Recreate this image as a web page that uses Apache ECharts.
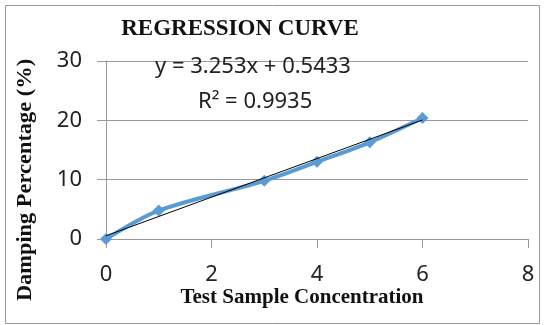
<!DOCTYPE html>
<html><head><meta charset="utf-8">
<script src="https://cdn.jsdelivr.net/npm/echarts@6/dist/echarts.min.js"></script>
<style>html,body{margin:0;padding:0;background:#fff}#c{width:545px;height:325px}</style>
</head><body><div id="c"></div>
<script>
var xValues = [0, 1, 3, 4, 5, 6];
var yValues = [0, 4.8, 9.8, 13.0, 16.3, 20.4];
var slope = 3.253, intercept = 0.5433, rSquared = 0.9935;
var xTicks = [0, 2, 4, 6, 8];
var yTicks = [0, 10, 20, 30];
var titleText = 'REGRESSION CURVE';
var xTitle = 'Test Sample Concentration';
var yTitle = 'Damping Percentage (%)';

var pts = xValues.map(function(x, i){ return [x, yValues[i]]; });
var trendX = [xValues[0], xValues[xValues.length-1]];
var trend = trendX.map(function(x){ return [x, slope*x + intercept]; });
var eqText = 'y = ' + slope + 'x + ' + intercept;
var r2Text = 'R² = ' + rSquared;

var chart = echarts.init(document.getElementById('c'));
var tickFont = {fontFamily:'Noto Sans', fontSize:22, color:'#222'};
chart.setOption({
  animation:false,
  grid:{left:106, right:17, top:61, bottom:86},
  xAxis:{type:'value', min:xTicks[0], max:xTicks[xTicks.length-1], interval:2,
    axisLine:{show:true, lineStyle:{color:'#999'}},
    axisTick:{show:true, length:9, lineStyle:{color:'#999'}},
    splitLine:{show:false},
    axisLabel:Object.assign({margin:25}, tickFont)},
  yAxis:{type:'value', min:yTicks[0], max:yTicks[yTicks.length-1], interval:10,
    axisLine:{show:true, lineStyle:{color:'#999'}},
    axisTick:{show:true, length:9, lineStyle:{color:'#999'}},
    splitLine:{show:true, lineStyle:{color:'#999'}},
    axisLabel:Object.assign({margin:24}, tickFont)},
  graphic:[
    {type:'rect', shape:{x:5.5, y:5.5, width:534, height:318}, style:{fill:'none', stroke:'#999', lineWidth:1}, silent:true, z:-1},
    {type:'text', x:240, y:41, style:{text:titleText, fontFamily:'Liberation Serif', fontWeight:'bold', fontSize:23, fill:'#111', textAlign:'center', textVerticalAlign:'bottom'}, z:10},
    {type:'text', x:155, y:78, style:{text:eqText, fontFamily:'Noto Sans', fontSize:22, fill:'#222', textVerticalAlign:'bottom'}, z:10},
    {type:'text', x:198, y:113, style:{text:r2Text, fontFamily:'Noto Sans', fontSize:22, fill:'#222', textVerticalAlign:'bottom'}, z:10},
    {type:'text', x:302, y:308, style:{text:xTitle, fontFamily:'Liberation Serif', fontWeight:'bold', fontSize:21, fill:'#111', textAlign:'center', textVerticalAlign:'bottom'}, z:10},
    {type:'text', x:26, y:180, scaleX:1.12, rotation:Math.PI/2, style:{text:yTitle, fontFamily:'Liberation Serif', fontWeight:'bold', fontSize:20, fill:'#111', textAlign:'center', textVerticalAlign:'middle'}, z:10}
  ],
  series:[
    {type:'line', data:pts, smooth:0.3, symbol:'diamond', symbolSize:12,
      lineStyle:{color:'#5B9BD5', width:4}, itemStyle:{color:'#5B9BD5'}, z:2},
    {type:'line', data:trend, symbol:'none', lineStyle:{color:'#000', width:1}, z:3}
  ]
});
</script></body></html>
